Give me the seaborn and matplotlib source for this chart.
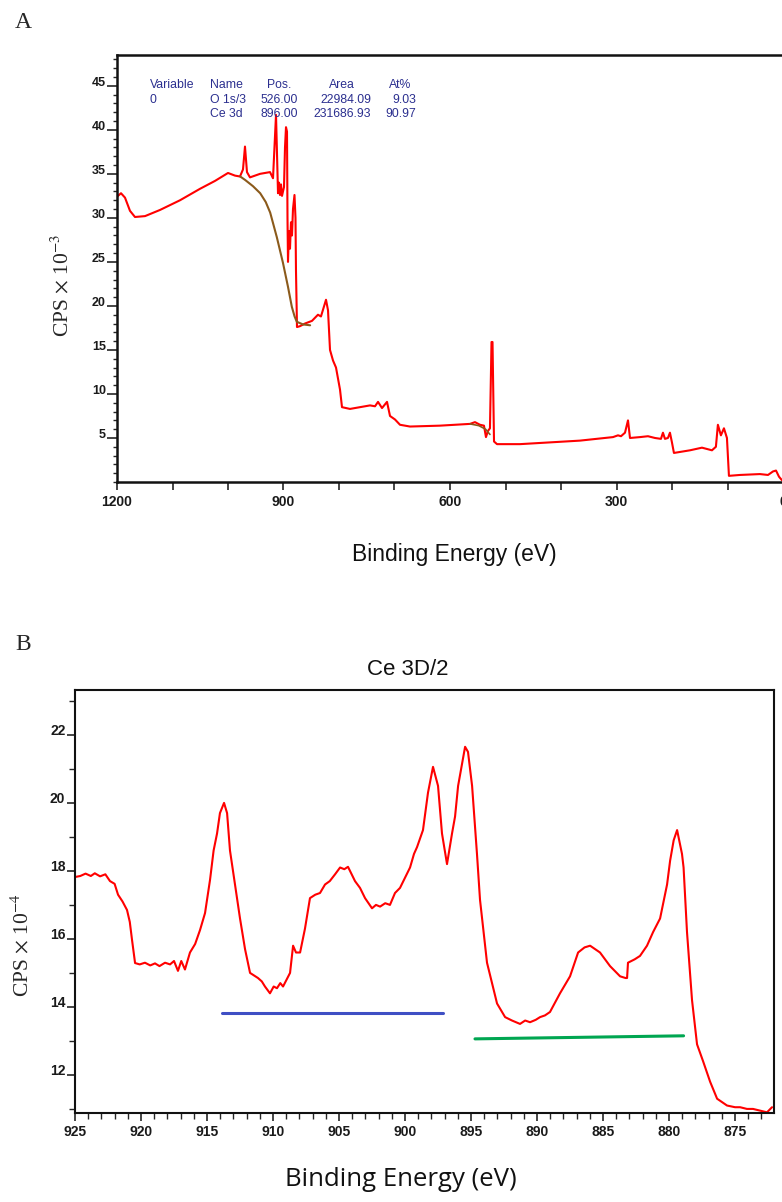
import numpy as np
import pandas as pd
import seaborn as sns
import matplotlib.pyplot as plt
from matplotlib import font_manager
from matplotlib.ticker import MultipleLocator

# ---------------- data ----------------
# panel A: survey spectrum (binding energy eV, CPS x 10^-3)
survey_ev = [1200, 1192.8, 1185.6, 1176.6, 1167.6, 1149.5, 1122.5, 1086.5, 1050.5, 1023.4,
             1000, 987.4, 978.4, 973.0, 969.4, 965.8, 960.4, 942.3, 924.3, 918.9,
             913.5, 909.9, 908.1, 906.3, 904.5, 902.7, 899.1, 897.3, 895.5, 893.7,
             892.8, 891.9, 890.1, 888.3, 886.5, 884.7, 882.9, 880.2, 878.4, 877.5,
             875.7, 870.3, 861.3, 848.7, 837.9, 832.5, 823.4, 819.8, 816.2, 810.8,
             805.4, 798.2, 794.6, 780.2, 762.2, 744.1, 735.1, 729.7, 722.5, 713.5,
             708.1, 699.1, 690.1, 672.1, 618.1, 564.0, 555.0, 546.0, 538.8, 535.2,
             531.6, 528.0, 525.2, 523.4, 520.7, 515.3, 473.9, 419.8, 365.8, 306.3,
             297.3, 291.9, 284.7, 279.3, 275.7, 257.7, 243.3, 230.7, 219.9, 216.3,
             212.7, 207.3, 203.7, 200.1, 196.5, 167.6, 146.0, 128.0, 120.9, 117.3,
             111.9, 106.4, 101.0, 97.4, 77.6, 41.6, 27.0, 18.0, 12.6, 7.2, 1.8]
survey_cps = [32.4, 32.8, 32.3, 30.8, 30.1, 30.2, 30.9, 32.0, 33.3, 34.2,
              35.1, 34.8, 34.7, 35.5, 38.1, 35.2, 34.6, 35.0, 35.2, 34.5,
              41.7, 32.8, 34.0, 32.6, 33.8, 32.5, 33.5, 38.0, 40.3, 39.8,
              30.0, 25.0, 28.5, 26.5, 29.5, 28.0, 31.0, 32.6, 30.0, 24.0,
              17.6, 17.7, 18.0, 18.3, 19.0, 18.8, 20.7, 19.5, 15.0, 13.8,
              13.0, 10.5, 8.5, 8.3, 8.5, 8.7, 8.6, 9.1, 8.4, 9.1,
              7.5, 7.1, 6.5, 6.3, 6.4, 6.6, 6.8, 6.5, 6.4, 5.1,
              5.8, 6.1, 15.9, 15.9, 4.6, 4.3, 4.3, 4.5, 4.7, 5.1,
              5.3, 5.2, 5.6, 7.0, 5.0, 5.1, 5.2, 5.0, 4.9, 5.6,
              4.9, 5.0, 5.6, 4.5, 3.3, 3.6, 3.9, 3.6, 4.0, 6.5,
              5.3, 6.1, 5.0, 0.7, 0.8, 0.9, 0.8, 1.2, 1.3, 0.6, 0.2]

# panel A: fitted backgrounds (brown)
ce_bg_ev = [978, 969, 955, 942, 932, 924, 912, 901, 892, 885, 880, 876, 865, 852]
ce_bg_cps = [34.7, 34.3, 33.6, 32.8, 31.8, 30.6, 27.8, 24.9, 22.2, 19.9, 18.8, 18.2, 17.9, 17.8]
o_bg_ev = [564, 548, 536, 528]
o_bg_cps = [6.6, 6.4, 6.0, 5.4]

# panel A: quantification table
quant_header = ["Variable", "Name", "Pos.", "Area", "At%"]
quant_rows = [["0", "O 1s/3", "526.00", "22984.09", "9.03"],
              ["", "Ce 3d", "896.00", "231686.93", "90.97"]]

# panel B: Ce 3d region (binding energy eV, CPS x 10^-4)
ce_ev = [925.0, 924.6, 924.2, 923.8, 923.5, 923.1, 922.7, 922.35, 922.0, 921.74,
         921.4, 921.06, 920.85, 920.68, 920.45, 920.1, 919.7, 919.3, 918.94, 918.6,
         918.18, 917.8, 917.5, 917.2, 916.95, 916.67, 916.29, 915.9, 915.53, 915.15,
         914.77, 914.5, 914.24, 914.02, 913.71, 913.48, 913.26, 912.88, 912.5, 912.12,
         911.74, 911.14, 910.85, 910.61, 910.23, 909.95, 909.7, 909.45, 909.24, 908.71,
         908.48, 908.26, 907.95, 907.58, 907.2, 906.8, 906.44, 906.06, 905.7, 905.3,
         904.92, 904.6, 904.32, 903.79, 903.41, 903.03, 902.5, 902.2, 901.89, 901.5,
         901.14, 900.76, 900.38, 900.0, 899.62, 899.32, 899.09, 898.64, 898.26, 897.88,
         897.5, 897.2, 896.82, 896.44, 896.21, 895.98, 895.45, 895.23, 894.92, 894.55,
         894.32, 893.79, 893.03, 892.42, 891.9, 891.29, 890.9, 890.53, 890.1, 889.77,
         889.4, 889.02, 888.26, 887.5, 886.89, 886.4, 885.98, 885.6, 885.23, 884.47,
         883.71, 883.3, 883.18, 883.11, 882.6, 882.2, 881.67, 881.21, 880.68, 880.15,
         879.92, 879.65, 879.39, 879.02, 878.9, 878.64, 878.26, 877.88, 877.42, 876.89,
         876.36, 875.61, 875.0, 874.62, 874.1, 873.64, 873.1, 872.58, 872.2]
ce_cps = [17.82, 17.85, 17.92, 17.85, 17.93, 17.84, 17.9, 17.7, 17.62, 17.3,
          17.1, 16.85, 16.5, 15.97, 15.29, 15.25, 15.3, 15.22, 15.28, 15.2,
          15.3, 15.25, 15.35, 15.06, 15.35, 15.1, 15.6, 15.85, 16.26, 16.76,
          17.74, 18.6, 19.1, 19.7, 20.0, 19.7, 18.6, 17.6, 16.6, 15.7,
          15.0, 14.85, 14.75, 14.6, 14.4, 14.6, 14.55, 14.7, 14.6, 15.0,
          15.8, 15.6, 15.6, 16.3, 17.2, 17.3, 17.35, 17.6, 17.7, 17.9,
          18.1, 18.05, 18.12, 17.7, 17.5, 17.2, 16.9, 17.0, 16.95, 17.05,
          17.0, 17.35, 17.5, 17.8, 18.1, 18.5, 18.7, 19.2, 20.3, 21.06,
          20.5, 19.1, 18.2, 19.1, 19.6, 20.5, 21.65, 21.5, 20.5, 18.5,
          17.15, 15.3, 14.1, 13.7, 13.6, 13.5, 13.6, 13.55, 13.62, 13.7,
          13.75, 13.85, 14.4, 14.9, 15.6, 15.75, 15.8, 15.7, 15.6, 15.2,
          14.9, 14.85, 14.85, 15.3, 15.4, 15.5, 15.8, 16.2, 16.6, 17.6,
          18.3, 18.9, 19.2, 18.5, 18.1, 16.2, 14.2, 12.9, 12.4, 11.8,
          11.3, 11.1, 11.05, 11.05, 11.0, 11.0, 10.95, 10.9, 11.05]

# panel B: the two baseline bars
blue_ev = [913.9, 897.1]
blue_cps = [13.82, 13.82]
green_ev = [894.7, 878.9]
green_cps = [13.06, 13.15]

# ---------------- style ----------------
sns.set_style("ticks")
plt.rcParams["font.family"] = ["Liberation Sans", "DejaVu Sans"]
plt.rcParams["mathtext.fontset"] = "stix"

W, H = 782, 1202
fig = plt.figure(figsize=(W / 100, H / 100), dpi=100)


def fx(px):
    return px / W


def fy(py):
    return 1 - py / H


names = {f.name for f in font_manager.fontManager.ttflist}
if "Liberation Sans Narrow" in names:
    narrow_font, narrow_size = "Liberation Sans Narrow", 20
else:
    narrow_font, narrow_size = "Liberation Sans", 16.5

# ---------------- panel A ----------------
axA = fig.add_axes([fx(117), fy(482), fx(783) - fx(117), fy(55) - fy(482)])
dfA = pd.DataFrame({"ev": survey_ev, "cps": survey_cps})
sns.lineplot(data=dfA, x="ev", y="cps", ax=axA, color="#ff0000", lw=1.5,
             estimator=None, sort=False)
sns.lineplot(x=ce_bg_ev, y=ce_bg_cps, ax=axA, color="#8b5a1b", lw=1.5,
             estimator=None, sort=False)
sns.lineplot(x=o_bg_ev, y=o_bg_cps, ax=axA, color="#8b5a1b", lw=1.2,
             estimator=None, sort=False)
axA.set_xlim(1200, 0)
axA.set_ylim(0, 48.5)
axA.set_xlabel("")
axA.set_ylabel("")
axA.xaxis.set_major_locator(MultipleLocator(300))
axA.xaxis.set_minor_locator(MultipleLocator(100))
yt = [5, 10, 15, 20, 25, 30, 35, 40, 45]
axA.set_yticks(yt, labels=[str(v) for v in yt], va="baseline")
axA.yaxis.set_minor_locator(MultipleLocator(1))
axA.tick_params(axis="x", which="both", length=6, width=1.2, pad=3, labelsize=10)
axA.tick_params(axis="y", which="major", length=7, width=1.2, pad=1, labelsize=9)
axA.tick_params(axis="y", which="minor", length=3, width=1.0)
for lbl in axA.get_xticklabels() + axA.get_yticklabels():
    lbl.set_fontweight("bold")
    lbl.set_color("#1a1a1a")
axA.spines["right"].set_visible(False)
for s in ["left", "bottom", "top"]:
    axA.spines[s].set_linewidth(1.8)
    axA.spines[s].set_color("#111111")

# quantification table, navy text
navy = "#2b2f8f"
head_x = [(150, "left"), (210, "left"), (279, "center"), (342, "center"), (400, "center")]
row_x = [(150, "left"), (210, "left"), (298, "right"), (371, "right"), (416, "right")]
for (px, ha), txt in zip(head_x, quant_header):
    fig.text(fx(px), fy(85), txt, ha=ha, va="center", fontsize=8.8, color=navy)
for r, row in enumerate(quant_rows):
    for (px, ha), txt in zip(row_x, row):
        fig.text(fx(px), fy(100 + 14 * r), txt, ha=ha, va="center", fontsize=8.8, color=navy)

fig.text(fx(15), fy(22), "A", ha="left", va="center", fontsize=17,
         family="Liberation Serif")
fig.text(fx(62), fy(285), r"CPS $\times$ 10$^{-3}$", rotation=90, ha="center",
         va="center", fontsize=15.5, family="Liberation Serif")
fig.text(fx(454), fy(555), "Binding Energy (eV)", ha="center", va="center",
         fontsize=narrow_size, family=narrow_font, color="#111111")

# ---------------- panel B ----------------
axB = fig.add_axes([fx(75), fy(1113), fx(774) - fx(75), fy(690) - fy(1113)])
dfB = pd.DataFrame({"ev": ce_ev, "cps": ce_cps})
sns.lineplot(data=dfB, x="ev", y="cps", ax=axB, color="#ff0000", lw=1.5,
             estimator=None, sort=False)
sns.lineplot(x=blue_ev, y=blue_cps, ax=axB, color="#3f4fc4", lw=2.2,
             estimator=None, sort=False)
sns.lineplot(x=green_ev, y=green_cps, ax=axB, color="#00a651", lw=2.2,
             estimator=None, sort=False)
axB.set_xlim(925, 872.05)
axB.set_ylim(10.88, 23.32)
axB.set_xlabel("")
axB.set_ylabel("")
axB.xaxis.set_major_locator(MultipleLocator(5))
axB.xaxis.set_minor_locator(MultipleLocator(1))
ytB = [12, 14, 16, 18, 20, 22]
axB.set_yticks(ytB, labels=[str(v) for v in ytB], va="baseline")
axB.yaxis.set_minor_locator(MultipleLocator(1))
axB.tick_params(axis="x", which="major", length=6, width=1.2, pad=3, labelsize=10)
axB.tick_params(axis="x", which="minor", length=4, width=1.0)
axB.tick_params(axis="y", which="major", length=6, width=1.2, pad=1, labelsize=10)
axB.tick_params(axis="y", which="minor", length=4, width=1.0)
for lbl in axB.get_xticklabels() + axB.get_yticklabels():
    lbl.set_fontweight("bold")
    lbl.set_color("#1a1a1a")
for s in axB.spines.values():
    s.set_linewidth(1.5)
    s.set_color("#111111")

fig.text(fx(15), fy(645), "B", ha="left", va="center", fontsize=17,
         family="Liberation Serif")
fig.text(fx(408), fy(670), "Ce 3D/2", ha="center", va="center", fontsize=16,
         color="#111111")
fig.text(fx(22), fy(945), r"CPS $\times$ 10$^{-4}$", rotation=90, ha="center",
         va="center", fontsize=15.5, family="Liberation Serif")
fig.text(fx(401), fy(1180), "Binding Energy (eV)", ha="center", va="center",
         fontsize=18.5, family="Open Sans", color="#111111")

fig.savefig("out.png", dpi=100)
